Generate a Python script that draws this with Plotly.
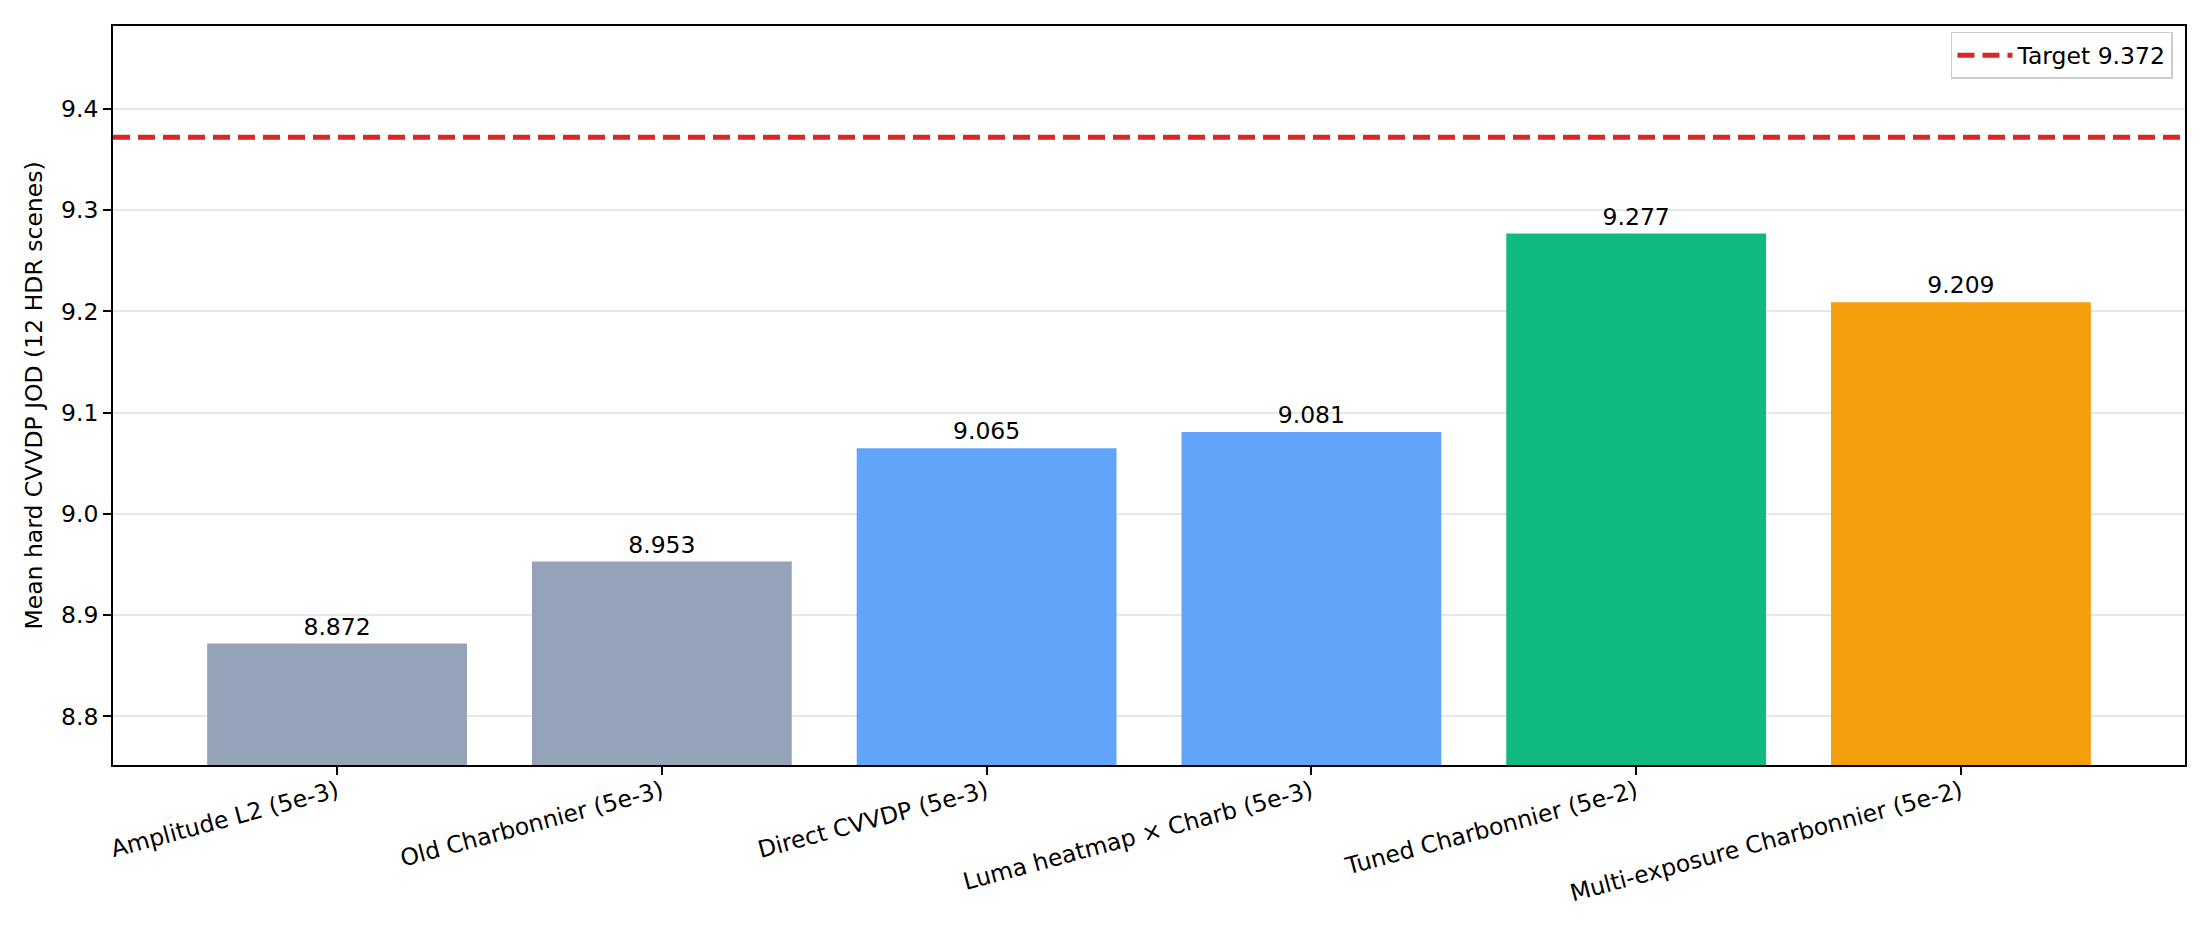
import plotly.graph_objects as go

# values
methods = [
    "Amplitude L2 (5e-3)",
    "Old Charbonnier (5e-3)",
    "Direct CVVDP (5e-3)",
    "Luma heatmap × Charb (5e-3)",
    "Tuned Charbonnier (5e-2)",
    "Multi-exposure Charbonnier (5e-2)",
]
jod = [8.872, 8.953, 9.065, 9.081, 9.277, 9.209]
bar_colors = ["#94a3b8", "#94a3b8", "#60a5fa", "#60a5fa", "#10b981", "#f59e0b"]
target = 9.372

FONT = "DejaVu Sans"
FS = 23.5


def build_fig():

    fig = go.Figure()

    fig.add_trace(go.Bar(
        x=methods,
        y=jod,
        marker=dict(color=bar_colors, line=dict(width=0)),
        text=[f"{v:.3f}" for v in jod],
        textposition="outside",
        textfont=dict(family=FONT, size=FS, color="black"),
        cliponaxis=False,
        showlegend=False,
        hoverinfo="x+y",
    ))

    # target line, also goes into the legend
    fig.add_shape(
        type="line", xref="paper", x0=0, x1=1, yref="y", y0=target, y1=target,
        line=dict(color="#dc2626", width=5, dash="17px,8px"),
        showlegend=True, name=f"Target {target}",
    )

    axis_common = dict(
        showline=True, linecolor="black", linewidth=1.7, mirror=True,
        ticks="outside", ticklen=8, tickwidth=1.7, tickcolor="black",
        tickfont=dict(family=FONT, size=FS, color="black"),
        zeroline=False,
    )

    # page body has an 8px margin, so the figure is a bit smaller than the window
    fig.update_layout(
        width=2194, height=919,
        margin=dict(l=105, r=17, t=18, b=162),
        paper_bgcolor="white", plot_bgcolor="white",
        font=dict(family=FONT, size=FS, color="black"),
        bargap=0.2,
        xaxis=dict(
            **axis_common,
            type="category",
            range=[-0.69, 5.69],
            tickangle=-15,
            ticklabelstandoff=-6,
            showgrid=False,
        ),
        yaxis=dict(
            **axis_common,
            range=[8.752, 9.482],
            dtick=0.1,
            tickformat=".1f",
            showgrid=True,
            gridcolor="rgba(176,176,176,0.3)",
            gridwidth=1.7,
            layer="above traces",
            title=dict(text="Mean hard CVVDP JOD (12 HDR scenes)",
                       font=dict(family=FONT, size=FS, color="black"),
                       standoff=12),
        ),
        legend=dict(
            x=0.9942, y=0.992, xanchor="right", yanchor="top",
            bgcolor="rgba(255,255,255,0.8)",
            bordercolor="#cccccc", borderwidth=1.5,
            itemwidth=55,
            font=dict(family=FONT, size=FS, color="black"),
        ),
    )
    return fig


def main():
    fig = build_fig()
    fig.write_html("out.html")


if __name__ == "__main__":
    main()
